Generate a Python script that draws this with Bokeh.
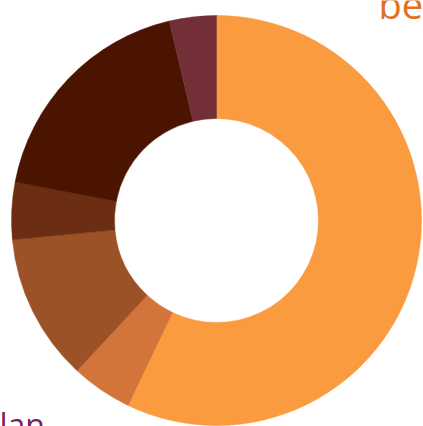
import numpy as np
from bokeh.plotting import figure
from bokeh.models import ColumnDataSource, Label, Range1d
from bokeh.embed import file_html
from bokeh.resources import INLINE

# Data (percent of total, clockwise from 12 o'clock)
segments = ["Segment 1", "Segment 2", "Segment 3", "Segment 4", "Segment 5", "Segment 6"]
values = [57.1, 4.8, 11.6, 4.5, 18.3, 3.7]
colors = ["#F99B3E", "#D3743A", "#9C5226", "#6C2E12", "#4A1400", "#722F37"]

title_text = "be"
sub_text = "lan"

vals = np.array(values, dtype=float)
cum = np.concatenate([[0.0], np.cumsum(vals)]) / vals.sum() * 2 * np.pi
start = np.pi / 2 - cum[:-1]
end = np.pi / 2 - cum[1:]

src = ColumnDataSource(dict(
    segment=segments, value=values, color=colors,
    start=start, end=end,
))

W, H = 423, 426
p = figure(width=W, height=H, x_range=Range1d(0, W), y_range=Range1d(0, H),
           output_backend="svg", toolbar_location=None, min_border=0)
p.axis.visible = False
p.grid.visible = False
p.outline_line_color = None
p.background_fill_color = "white"
p.border_fill_color = "white"

cx, cy = 216, H - 220
p.annular_wedge(x=cx, y=cy, inner_radius=102, outer_radius=205,
                start_angle="start", end_angle="end", direction="clock",
                fill_color="color", line_color="color", line_width=0.5, source=src)

p.add_layout(Label(x=378, y=H - 3, text=title_text, text_color="#E2701E",
                   text_font="Open Sans", text_font_size="38px",
                   text_baseline="alphabetic", text_align="left"))
p.add_layout(Label(x=-1, y=2, text=sub_text, text_color="#7A1F5C",
                   text_font="Open Sans", text_font_size="32px",
                   text_baseline="alphabetic", text_align="left"))

open("out.html", "w").write(file_html(p, INLINE))
